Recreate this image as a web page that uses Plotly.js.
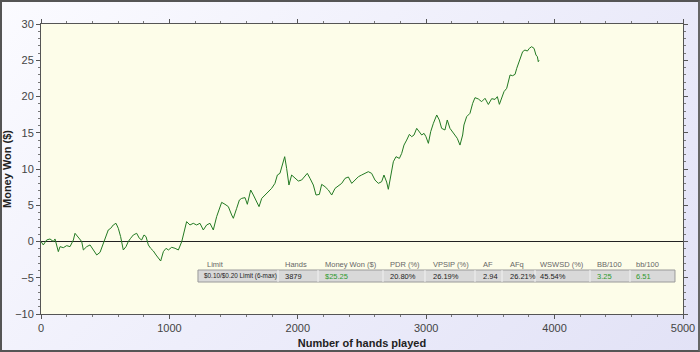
<!DOCTYPE html>
<html>
<head>
<meta charset="utf-8">
<script src="https://cdn.plot.ly/plotly-3.0.1.min.js"></script>
<style>
  html, body { margin: 0; padding: 0; }
  #wrap { position: relative; width: 700px; height: 352px;
          background: linear-gradient(135deg, #fbfbff 0%, #eeeefb 50%, #e2e2f6 100%); }
  #chart { position: absolute; left: 0; top: 0; width: 700px; height: 352px; }
  #frame { position: absolute; left: 0; top: 0; width: 700px; height: 352px; box-sizing: border-box;
           border: 2px solid #555; border-right-color: #666; pointer-events: none; }
</style>
</head>
<body>
<div id="wrap"><div id="chart"></div><div id="frame"></div></div>
<script>
// ---- data ----
const hands = [0,18,44,70,96,109,135,148,174,200,226,252,265,291,317,330,356,382,408,434,460,480,498,524,543,563,584,602,620,641,662,680,698,719,745,766,784,802,818,836,854,875,896,916,932,953,974,992,1018,1044,1070,1096,1114,1134,1160,1186,1212,1238,1264,1290,1316,1342,1368,1394,1407,1433,1459,1485,1498,1524,1545,1563,1589,1607,1633,1654,1680,1698,1719,1744,1770,1796,1822,1841,1861,1882,1898,1913,1931,1952,1978,2004,2030,2056,2074,2095,2121,2142,2168,2186,2212,2238,2264,2290,2316,2342,2368,2394,2420,2446,2472,2497,2523,2549,2575,2601,2627,2653,2671,2692,2705,2723,2744,2765,2791,2809,2827,2848,2869,2887,2905,2926,2947,2965,2983,2998,3017,3035,3056,3082,3102,3120,3146,3164,3185,3206,3224,3242,3263,3284,3294,3315,3341,3362,3380,3406,3432,3458,3484,3510,3536,3554,3570,3588,3606,3627,3640,3653,3673,3692,3705,3718,3730,3751,3769,3788,3803,3821,3840,3855,3866,3873,3879];
const moneyWon = [0,-0.48,0.21,0.35,0,0.35,-1.4,-0.71,-0.85,-0.57,-0.71,0.21,1.13,0.53,0,-1.17,-0.71,-0.48,-1.17,-1.86,-1.49,-0.48,0.21,1.59,1.82,2.28,2.51,1.82,0.67,-1.17,-0.71,0,0.44,0.9,1.13,0.44,0.21,0.9,0.67,-0.48,-0.94,-1.31,-1.86,-2.32,-2.69,-1.4,-0.94,-1.17,-0.8,-0.94,-1.17,-0.02,1.13,2.74,2.28,2.51,2.28,2.51,1.59,2.28,2.51,1.59,3.43,4.58,5.4,5.13,4.81,3.66,3.2,4.58,5.72,5.95,6.05,5.13,7.1,6.41,5.49,4.81,5.95,6.41,6.87,7.33,8.02,9.17,9.4,10.55,11.7,10.09,7.79,9.17,8.71,8.34,8.48,8.94,9.4,8.71,7.79,6.41,6.5,7.88,7.56,7.1,6.41,7.33,7.7,8.02,8.71,8.9,8.02,8.48,8.94,9.17,9.4,9.63,9.4,8.48,8.02,8.25,9.17,8.2,7.2,9.17,11.0,11.7,11.46,12.15,13.3,13.99,14.78,14.46,14.69,15.61,15.15,14.69,14.92,14.46,13.54,15.15,16.3,17.45,16.76,15.61,15.38,16.76,15.61,15.15,14.69,14.23,13.3,14.69,16.07,17.22,17.68,19.06,19.84,19.66,19.29,19.75,18.9,19.7,19.6,19.98,18.92,19.75,20.67,21.13,22.05,22.97,22.87,23.06,23.88,24.57,25.17,26.18,26.41,26.27,26.64,26.87,26.64,25.72,25.49,24.8,25.0];

const tableHeaders = ["Limit","Hands","Money Won ($)","PDR (%)","VPSIP (%)","AF","AFq","WSWSD (%)","BB/100","bb/100"];
const tableValues  = ["$0.10/$0.20 Limit (6-max)","3879","$25.25","20.80%","26.19%","2.94","26.21%","45.54%","3.25","6.51"];
const valueIsGreen = [false,false,true,false,false,false,false,false,true,true];

// ---- layout of the stats table (paper coordinates) ----
const headerX = [0.2555,0.377,0.4393,0.5405,0.6075,0.6854,0.7274,0.7741,0.8629,0.9237];
const valueX  = [0.2508,0.377,0.4393,0.5405,0.6075,0.6854,0.7274,0.7741,0.8629,0.9237];
const sepX = [0.3692,0.4315,0.5327,0.5981,0.676,0.7181,0.7695,0.8551,0.9174];
const rowTop = 0.1517, rowBot = 0.1103, headY = 0.169, valY = 0.131;
const tblFamily = 'Liberation Sans, Arial, sans-serif';

const annotations = [];
tableHeaders.forEach((t, i) => annotations.push({
  xref: 'paper', yref: 'paper', x: headerX[i], y: headY, xanchor: 'left', yanchor: 'middle',
  text: t, showarrow: false, font: {family: tblFamily, size: 7.5, color: '#666'}
}));
tableValues.forEach((t, i) => annotations.push({
  xref: 'paper', yref: 'paper', x: valueX[i], y: valY, xanchor: 'left', yanchor: 'middle',
  text: t, showarrow: false,
  font: {family: tblFamily, size: i === 0 ? 6.4 : 7.5, color: valueIsGreen[i] ? '#2e9a2e' : '#222'}
}));

const shapes = [
  {type: 'rect', xref: 'paper', yref: 'paper', x0: 0.2445, x1: 0.9875, y0: rowBot, y1: rowTop,
   fillcolor: '#d9d9d9', line: {color: '#9a9a9a', width: 1}, layer: 'above'}
];
sepX.forEach(x => shapes.push({type: 'line', xref: 'paper', yref: 'paper', x0: x, x1: x, y0: rowBot, y1: rowTop,
  line: {color: '#f2f2f2', width: 1}, layer: 'above'}));

const trace = {
  x: hands, y: moneyWon, type: 'scatter', mode: 'lines',
  line: {color: '#237a23', width: 1}, hoverinfo: 'skip'
};

const axisFont = {family: 'Liberation Sans, Arial, sans-serif', size: 11, color: '#444'};
const layout = {
  width: 700, height: 352,
  margin: {l: 41, r: 17, t: 24, b: 38},
  paper_bgcolor: 'rgba(0,0,0,0)',
  plot_bgcolor: '#fdfde9',
  showlegend: false,
  xaxis: {
    range: [0, 5000], dtick: 1000, tick0: 0, showgrid: false, zeroline: false,
    showline: true, linecolor: '#555', linewidth: 1, mirror: 'ticks',
    ticks: 'outside', ticklen: 4, tickcolor: '#555',
    minor: {dtick: 200, ticks: 'outside', ticklen: 2, tickcolor: '#777', showgrid: false},
    tickfont: axisFont,
    title: {text: '<b>Number of hands played</b>', font: {family: 'Liberation Sans, Arial, sans-serif', size: 11, color: '#222'}, standoff: 6}
  },
  yaxis: {
    range: [-10, 30], dtick: 5, tick0: 0, showgrid: false,
    zeroline: true, zerolinecolor: '#222', zerolinewidth: 1,
    showline: true, linecolor: '#555', linewidth: 1, mirror: 'ticks',
    ticks: 'outside', ticklen: 4, tickcolor: '#555',
    minor: {dtick: 1, ticks: 'outside', ticklen: 2, tickcolor: '#777', showgrid: false},
    tickfont: axisFont,
    title: {text: '<b>Money Won ($)</b>', font: {family: 'Liberation Sans, Arial, sans-serif', size: 11, color: '#222'}, standoff: 1}
  },
  annotations: annotations,
  shapes: shapes
};

Plotly.newPlot('chart', [trace], layout, {displayModeBar: false, staticPlot: true});
</script>
</body>
</html>
